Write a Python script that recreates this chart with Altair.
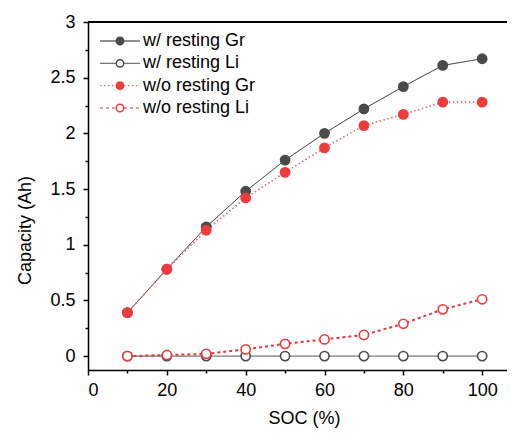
import altair as alt
import pandas as pd

soc = [10, 20, 30, 40, 50, 60, 70, 80, 90, 100]
w_gr = [0.39, 0.78, 1.16, 1.48, 1.76, 2.00, 2.22, 2.42, 2.61, 2.67]
w_li = [0, 0, 0, 0, 0, 0, 0, 0, 0, 0]
wo_gr = [0.39, 0.78, 1.13, 1.42, 1.65, 1.87, 2.07, 2.17, 2.28, 2.28]
wo_li = [0.0, 0.01, 0.02, 0.06, 0.11, 0.15, 0.19, 0.29, 0.42, 0.51]
series = ["w/ resting Gr", "w/ resting Li", "w/o resting Gr", "w/o resting Li"]
values = [w_gr, w_li, wo_gr, wo_li]

rows = []
for name, vals in zip(series, values):
    for s, v in zip(soc, vals):
        rows.append({"series": name, "line_series": name, "SOC": s, "cap": v})
df = pd.DataFrame(rows)
legend_df = pd.DataFrame({"series": series, "line_series": series, "row": list(range(len(series)))})

FONT = "Liberation Sans"
marker_stroke = ["#4a4a4a", "#4a4a4a", "#ee3b3b", "#ee3b3b"]
marker_fill = ["#4a4a4a", "#ffffff", "#ee3b3b", "#ffffff"]
line_color = ["#222222", "#777777", "#d97070", "#e03a3a"]
line_dash = [[1, 0], [1, 0], [1.5, 2.5], [3, 3]]
line_width = [1, 2, 1.4, 1.2]

x_vals = list(range(0, 101, 10))
y_vals = [i * 0.25 for i in range(13)]

x_axis = alt.Axis(
    values=x_vals, labelExpr="datum.value % 20 == 0 ? datum.label : ''",
    tickSize={"condition": {"test": "datum.value % 20 != 0", "value": 3}, "value": 5},
    grid=False, domainColor="black", tickColor="black", domainWidth=1.5, tickWidth=1.5,
    labelFont=FONT, labelFontSize=18, labelColor="black", labelPadding=6,
    title="SOC (%)", titleFont=FONT, titleFontSize=18, titleFontWeight="normal",
    titleColor="black", titlePadding=10, titleX=216,
)
y_axis = alt.Axis(
    values=y_vals, format="~g", labelExpr="datum.value % 0.5 == 0 ? datum.label : ''",
    tickSize={"condition": {"test": "datum.value % 0.5 != 0", "value": 3}, "value": 5},
    grid=False, domainColor="black", tickColor="black", domainWidth=1.5, tickWidth=1.5,
    labelFont=FONT, labelFontSize=18, labelColor="black", labelPadding=8,
    title="Capacity (Ah)", titleFont=FONT, titleFontSize=18, titleFontWeight="normal",
    titleColor="black", titlePadding=15, titleY=208,
)

xs = alt.Scale(domain=[0, 106.3], nice=False, zero=False)
ys = alt.Scale(domain=[-0.125, 3], nice=False, zero=False)
color_s = alt.Scale(domain=series, range=line_color)
dash_s = alt.Scale(domain=series, range=line_dash)
width_s = alt.Scale(domain=series, range=line_width)
stroke_s = alt.Scale(domain=series, range=marker_stroke)
fill_s = alt.Scale(domain=series, range=marker_fill)
leg_y = alt.Scale(domain=[0, 3], range=[19, 86])

base = alt.Chart(df)

lines = base.mark_line().encode(
    x=alt.X("SOC:Q", scale=xs, axis=x_axis),
    y=alt.Y("cap:Q", scale=ys, axis=y_axis),
    color=alt.Color("line_series:N", scale=color_s, legend=None),
    strokeDash=alt.StrokeDash("line_series:N", scale=dash_s, legend=None),
    strokeWidth=alt.StrokeWidth("line_series:N", scale=width_s, legend=None),
)

points = base.mark_point(size=85, strokeWidth=1.6, opacity=1, shape="circle").encode(
    x=alt.X("SOC:Q", scale=xs, axis=x_axis),
    y=alt.Y("cap:Q", scale=ys, axis=None),
    stroke=alt.Stroke("series:N", scale=stroke_s, legend=None),
    fill=alt.Fill("series:N", scale=fill_s, legend=None),
)

top = alt.Chart(df).mark_rule(color="black", strokeWidth=1.5).encode(
    x=alt.value(0), x2=alt.value(419), y=alt.value(0),
)

lbase = alt.Chart(legend_df)
leg_lines = lbase.mark_rule(strokeWidth=1.2).encode(
    x=alt.value(12), x2=alt.value(52),
    y=alt.Y("row:Q", scale=leg_y, axis=None),
    color=alt.Color("line_series:N", scale=color_s, legend=None),
    strokeDash=alt.StrokeDash("line_series:N", scale=dash_s, legend=None),
)
leg_pts = lbase.mark_point(size=55, strokeWidth=1.5, opacity=1, shape="circle").encode(
    x=alt.value(32),
    y=alt.Y("row:Q", scale=leg_y, axis=None),
    stroke=alt.Stroke("series:N", scale=stroke_s, legend=None),
    fill=alt.Fill("series:N", scale=fill_s, legend=None),
)
leg_txt = lbase.mark_text(align="left", baseline="middle", font=FONT, fontSize=18, color="black").encode(
    x=alt.value(55),
    y=alt.Y("row:Q", scale=leg_y, axis=None),
    text="series:N",
)

chart = alt.layer(lines, points, top, leg_lines, leg_pts, leg_txt).resolve_scale(
    y="independent"
).properties(
    width=419, height=348, autosize="none",
    padding={"left": 80, "top": 14, "right": 0, "bottom": 58},
).configure_view(stroke=None).configure(background="white")

chart.save("out.html", embed_options={"renderer": "svg", "actions": False})
